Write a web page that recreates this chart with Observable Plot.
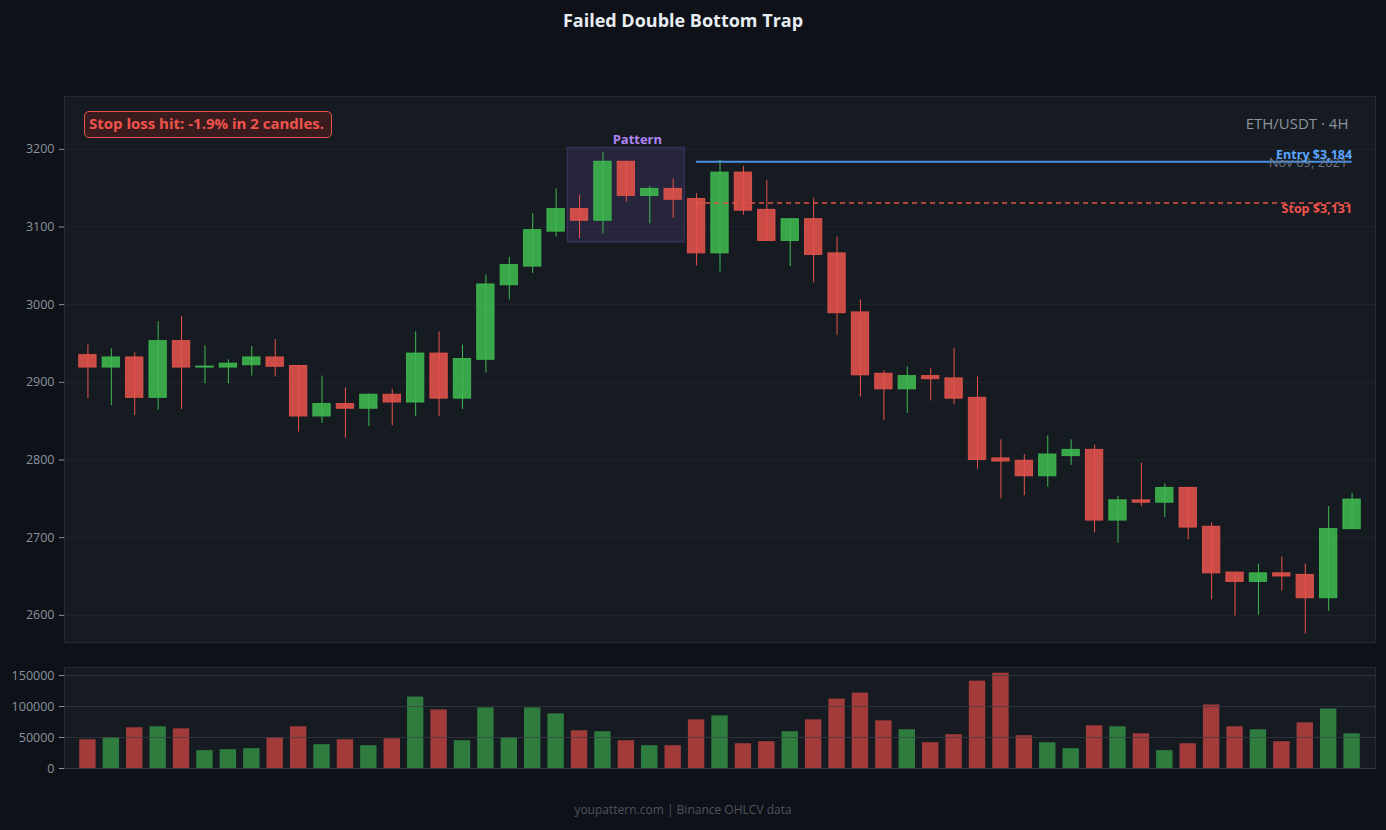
<!DOCTYPE html>
<html>
<head>
<meta charset="utf-8">
<script src="https://cdn.jsdelivr.net/npm/d3@7"></script>
<script src="https://cdn.jsdelivr.net/npm/@observablehq/plot@0.6"></script>
<style>
  html, body { margin: 0; padding: 0; background: #0e1118; }
  #wrap { position: relative; width: 1386px; height: 830px; background: #0e1118; font-family: "Open Sans", sans-serif; overflow: hidden; }
  #title { position: absolute; left: 0; top: 7px; width: 1366px; text-align: center; color: #e6edf3; font-weight: 700; font-size: 18px; line-height: 26px; }
  #main { position: absolute; left: 0; top: 40px; }
  #vol { position: absolute; left: 0; top: 652px; }
  #footer { position: absolute; left: 0; top: 800px; width: 1366px; text-align: center; color: #4d545d; font-size: 12px; line-height: 20px; }
  #stopbox { position: absolute; left: 84px; top: 111px; width: 248px; height: 27px; box-sizing: border-box; border: 1.5px solid #e5534b; border-radius: 5px; background: #3a1c1f; color: #f0544c; font-weight: 700; font-size: 15px; line-height: 23px; padding-left: 4px; white-space: nowrap; }
</style>
</head>
<body>
<div id="wrap">
  <div id="title"></div>
  <div id="main"></div>
  <div id="vol"></div>
  <div id="stopbox"></div>
  <div id="footer"></div>
</div>
<script>
// ---- Data ----
const titleText = "Failed Double Bottom Trap";
const footerText = "youpattern.com | Binance OHLCV data";
const stopNote = "Stop loss hit: -1.9% in 2 candles.";
const pairLabel = "ETH/USDT · 4H";
const dateLabel = "Nov 09, 2021";

const opens  = [2935,2919,2932,2880,2953,2919,2919,2922,2932,2921,2856,2872,2866,2884,2874,2937,2879,2929,3025,3049,3094,3123,3108,3184,3140,3149,3136,3066,3170,3122,3082,3110,3066,2990,2911,2891,2908,2905,2880,2802,2799,2779,2805,2813,2722,2748,2745,2764,2714,2655,2643,2654,2652,2622,2711];
const highs  = [2948,2943,2938,2978,2985,2947,2929,2946,2955,2922,2908,2893,2885,2891,2965,2965,2948,3038,3061,3117,3149,3141,3196,3184,3152,3162,3143,3186,3178,3160,3111,3137,3087,3006,2915,2920,2918,2944,2907,2826,2807,2831,2826,2819,2753,2796,2769,2764,2719,2655,2666,2675,2666,2740,2757];
const lows   = [2879,2870,2857,2864,2865,2898,2898,2908,2907,2836,2847,2828,2843,2844,2856,2856,2865,2912,3006,3040,3087,3085,3091,3132,3104,3111,3050,3042,3115,3082,3049,3028,2960,2881,2851,2860,2876,2871,2788,2750,2754,2765,2793,2706,2693,2740,2726,2697,2620,2599,2600,2631,2576,2605,2710];
const closes = [2919,2932,2880,2953,2919,2920,2924,2932,2920,2856,2872,2866,2884,2874,2937,2879,2930,3026,3051,3096,3123,3108,3184,3140,3149,3135,3066,3170,3121,3082,3110,3064,2989,2909,2891,2908,2904,2879,2800,2798,2779,2807,2813,2722,2748,2745,2764,2713,2654,2643,2654,2650,2622,2711,2749];
const volumes = [46400,49700,65700,67300,64000,28800,30400,32000,49700,67300,38400,46400,36800,48000,115300,94500,44800,97700,49700,97700,88100,60900,59300,44800,36800,36800,78500,84900,40000,43200,59300,78500,112000,121700,76900,62500,41600,54500,141000,153800,52900,41600,32000,68900,67300,56000,28800,40000,102500,67300,62500,43200,73700,96100,56000];

const priceTicks = [2600, 2700, 2800, 2900, 3000, 3100, 3200];
const volumeTicks = [0, 50000, 100000, 150000];

const entryPrice = 3184;
const stopPrice = 3131;
const tradeStart = 26;   // candle index where entry/stop lines begin
const patternStart = 21; // first candle of pattern
const patternEnd = 25;   // last candle of pattern
const patternTop = 3202;
const patternBottom = 3080;

// ---- Styles ----
const UP = "#3fb950", DOWN = "#e5534b";
const UP_VOL = "#2e7d3e", DOWN_VOL = "#a33b3b";
const FONT = "Open Sans, sans-serif";

// ---- Tables built from arrays ----
const candles = opens.map((o, i) => {
  const c = closes[i];
  const lo = Math.min(o, c), hi = Math.max(o, c);
  return {i, o, h: highs[i], l: lows[i], c, bodyLo: lo, bodyHi: hi - lo < 1.2 ? lo + 1.2 : hi, up: c >= o, v: volumes[i]};
});

document.getElementById("title").textContent = titleText;
document.getElementById("footer").textContent = footerText;
document.getElementById("stopbox").textContent = stopNote;

const main = Plot.plot({
  width: 1386,
  height: 612,
  marginTop: 56,
  marginBottom: 10,
  marginLeft: 64,
  marginRight: 11,
  style: {background: "transparent", color: "#8b949e", fontFamily: FONT, fontSize: "12.5px"},
  x: {domain: [-1, 55], axis: null},
  y: {domain: [2565, 3268], axis: null},
  marks: [
    Plot.frame({fill: "#161b22", stroke: "#262b33"}),
    Plot.gridY(priceTicks, {stroke: "#20252c", strokeOpacity: 1}),
    Plot.axisY(priceTicks, {tickSize: 5, tickPadding: 5, tickFormat: d => String(d), stroke: "#8b949e", fill: "#8b949e", fontSize: 12.5, label: null}),
    Plot.rect([{x1: patternStart - 0.5, x2: patternEnd + 0.5, y1: patternBottom, y2: patternTop}], {
      x1: "x1", x2: "x2", y1: "y1", y2: "y2",
      fill: "#a371f7", fillOpacity: 0.12, stroke: "#a371f7", strokeOpacity: 0.18, strokeWidth: 1.5
    }),
    Plot.text(["Pattern"], {x: (patternStart + patternEnd) / 2, y: patternTop, text: d => d, dx: 11, dy: -8, fill: "#b084f5", fontWeight: 700, fontSize: 13}),
    Plot.ruleX(candles, {x: "i", y1: "l", y2: "h", stroke: d => d.up ? UP : DOWN, strokeWidth: 1}),
    Plot.rect(candles, {
      x1: d => d.i - 0.37, x2: d => d.i + 0.37, y1: "bodyLo", y2: "bodyHi",
      fill: d => d.up ? UP : DOWN, fillOpacity: 0.88, stroke: d => d.up ? UP : DOWN, strokeOpacity: 0.9, strokeWidth: 1
    }),
    Plot.ruleY([entryPrice], {x1: tradeStart, x2: 54, y: d => d, stroke: "#4a90e2", strokeWidth: 2}),
    Plot.ruleY([stopPrice], {x1: tradeStart, x2: 54, y: d => d, stroke: "#e5534b", strokeWidth: 1.5, strokeDasharray: "5,4"}),
    Plot.text([dateLabel], {frameAnchor: "top-right", lineAnchor: "middle", text: d => d, dx: -28, dy: 66, fill: "#6e7681", fontSize: 13, textAnchor: "end"}),
    Plot.text([`Entry $${d3.format(",")(entryPrice)}`], {x: 54, y: entryPrice, text: d => d, dy: -7, textAnchor: "end", fill: "#58a6ff", fontWeight: 700, fontSize: 12.5}),
    Plot.text([`Stop $${d3.format(",")(stopPrice)}`], {x: 54, y: stopPrice, text: d => d, dy: 6, textAnchor: "end", fill: "#f0544c", fontWeight: 700, fontSize: 12.5}),
    Plot.text([pairLabel], {frameAnchor: "top-right", lineAnchor: "middle", text: d => d, dx: -27, dy: 28, fill: "#8b949e", fontSize: 15, textAnchor: "end"})
  ]
});
document.getElementById("main").appendChild(main);

const vol = Plot.plot({
  width: 1386,
  height: 126,
  marginTop: 15,
  marginBottom: 10,
  marginLeft: 64,
  marginRight: 11,
  style: {background: "transparent", color: "#8b949e", fontFamily: FONT, fontSize: "12.5px"},
  x: {domain: [-1, 55], axis: null},
  y: {domain: [0, 163000], axis: null},
  marks: [
    Plot.frame({fill: "#161b22", stroke: "#262b33"}),
    Plot.axisY(volumeTicks, {tickSize: 5, tickPadding: 5, tickFormat: d => String(d), stroke: "#8b949e", fill: "#8b949e", fontSize: 12.5, label: null}),
    Plot.rectY(candles, {x1: d => d.i - 0.35, x2: d => d.i + 0.35, y1: 0, y2: "v", fill: d => d.up ? UP_VOL : DOWN_VOL}),
    Plot.gridY(volumeTicks, {stroke: "#3a3f47", strokeOpacity: 0.7})
  ]
});
document.getElementById("vol").appendChild(vol);
</script>
</body>
</html>
